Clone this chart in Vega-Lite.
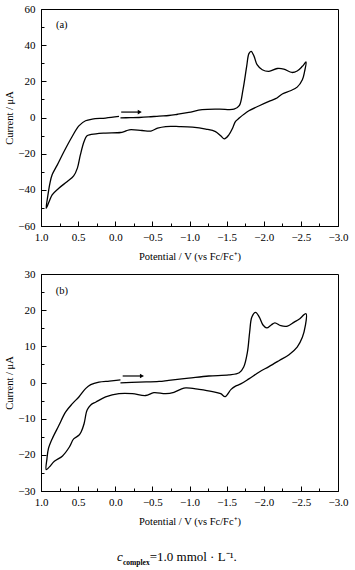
{
  "$schema": "https://vega.github.io/schema/vega-lite/v6.json",
  "padding": {"left": 4, "top": 2, "right": 5, "bottom": 0},
  "spacing": 5,
  "config": {
    "font": "Liberation Serif",
    "view": {"stroke": "black", "strokeWidth": 1},
    "axis": {"grid": false, "domainColor": "black", "tickColor": "black", "labelColor": "black", "titleColor": "black", "labelFont": "Liberation Serif", "titleFont": "Liberation Serif", "labelFontSize": 11, "titleFontSize": 10.5, "titleFontWeight": "normal", "labelOverlap": false, "labelFlush": false}
  },
  "datasets": {
    "a": [
      {"E": -0.07, "I": -0.2}, {"E": -0.2, "I": -0.1}, {"E": -0.32, "I": 0.0}, {"E": -0.45, "I": 0.3}, {"E": -0.59, "I": 0.8},
      {"E": -0.72, "I": 1.1}, {"E": -0.84, "I": 1.8}, {"E": -0.99, "I": 2.8}, {"E": -1.17, "I": 4.3}, {"E": -1.4, "I": 4.6},
      {"E": -1.6, "I": 4.6}, {"E": -1.67, "I": 6.5}, {"E": -1.72, "I": 15.3}, {"E": -1.77, "I": 28.3}, {"E": -1.8, "I": 35.3},
      {"E": -1.83, "I": 36.6}, {"E": -1.87, "I": 33.8}, {"E": -1.91, "I": 29.2}, {"E": -1.98, "I": 26.4}, {"E": -2.07, "I": 25.5},
      {"E": -2.18, "I": 27.1}, {"E": -2.27, "I": 26.8}, {"E": -2.38, "I": 24.9}, {"E": -2.45, "I": 25.7}, {"E": -2.52, "I": 28.3},
      {"E": -2.57, "I": 30.7}, {"E": -2.55, "I": 25.5}, {"E": -2.52, "I": 20.9}, {"E": -2.45, "I": 16.8}, {"E": -2.36, "I": 14.8},
      {"E": -2.25, "I": 13.0}, {"E": -2.16, "I": 10.4}, {"E": -2.07, "I": 8.9}, {"E": -1.94, "I": 6.5}, {"E": -1.8, "I": 3.7},
      {"E": -1.67, "I": -0.3}, {"E": -1.62, "I": -2.2}, {"E": -1.58, "I": -5.9}, {"E": -1.53, "I": -9.6}, {"E": -1.47, "I": -11.8},
      {"E": -1.42, "I": -10.1}, {"E": -1.35, "I": -7.8}, {"E": -1.22, "I": -6.4}, {"E": -1.04, "I": -5.3}, {"E": -0.86, "I": -5.0},
      {"E": -0.68, "I": -5.0}, {"E": -0.57, "I": -5.9}, {"E": -0.48, "I": -7.5}, {"E": -0.36, "I": -7.2}, {"E": -0.19, "I": -6.8},
      {"E": -0.12, "I": -7.8}, {"E": -0.07, "I": -8.3}, {"E": 0.13, "I": -8.6}, {"E": 0.26, "I": -9.0}, {"E": 0.38, "I": -10.1},
      {"E": 0.42, "I": -13.3}, {"E": 0.47, "I": -20.7}, {"E": 0.51, "I": -28.0}, {"E": 0.56, "I": -32.3}, {"E": 0.65, "I": -35.5},
      {"E": 0.76, "I": -39.1}, {"E": 0.85, "I": -42.8}, {"E": 0.89, "I": -46.5}, {"E": 0.93, "I": -50.2}, {"E": 0.91, "I": -43.8},
      {"E": 0.88, "I": -36.4}, {"E": 0.85, "I": -31.7}, {"E": 0.78, "I": -26.2}, {"E": 0.69, "I": -18.8}, {"E": 0.58, "I": -10.5},
      {"E": 0.49, "I": -4.6}, {"E": 0.4, "I": -1.8}, {"E": 0.31, "I": -0.9}, {"E": 0.13, "I": -0.3}, {"E": -0.05, "I": 0.6}
    ],
    "b": [
      {"E": -0.07, "I": -0.1}, {"E": -0.32, "I": 0.1}, {"E": -0.59, "I": 0.3}, {"E": -0.72, "I": 0.6}, {"E": -0.99, "I": 1.2},
      {"E": -1.26, "I": 1.8}, {"E": -1.53, "I": 2.1}, {"E": -1.67, "I": 2.7}, {"E": -1.73, "I": 4.3}, {"E": -1.78, "I": 8.4},
      {"E": -1.81, "I": 13.9}, {"E": -1.84, "I": 18.1}, {"E": -1.89, "I": 19.4}, {"E": -1.94, "I": 18.1}, {"E": -1.99, "I": 15.9},
      {"E": -2.04, "I": 15.1}, {"E": -2.1, "I": 15.9}, {"E": -2.15, "I": 16.5}, {"E": -2.23, "I": 15.7}, {"E": -2.32, "I": 15.6},
      {"E": -2.41, "I": 16.7}, {"E": -2.47, "I": 17.4}, {"E": -2.57, "I": 19.0}, {"E": -2.56, "I": 15.7}, {"E": -2.52, "I": 12.5},
      {"E": -2.45, "I": 9.8}, {"E": -2.34, "I": 7.7}, {"E": -2.21, "I": 6.1}, {"E": -2.07, "I": 4.4}, {"E": -1.94, "I": 2.9},
      {"E": -1.8, "I": 1.0}, {"E": -1.69, "I": -0.4}, {"E": -1.62, "I": -1.0}, {"E": -1.56, "I": -1.9}, {"E": -1.48, "I": -3.9},
      {"E": -1.42, "I": -3.1}, {"E": -1.31, "I": -2.5}, {"E": -1.13, "I": -1.9}, {"E": -0.95, "I": -1.5}, {"E": -0.88, "I": -1.9},
      {"E": -0.79, "I": -2.7}, {"E": -0.68, "I": -3.1}, {"E": -0.52, "I": -2.8}, {"E": -0.41, "I": -3.6}, {"E": -0.23, "I": -3.1},
      {"E": -0.05, "I": -3.1}, {"E": 0.13, "I": -4.0}, {"E": 0.26, "I": -5.4}, {"E": 0.33, "I": -6.2}, {"E": 0.38, "I": -7.7},
      {"E": 0.42, "I": -11.4}, {"E": 0.46, "I": -13.7}, {"E": 0.49, "I": -14.6}, {"E": 0.56, "I": -15.6}, {"E": 0.62, "I": -17.9},
      {"E": 0.71, "I": -20.3}, {"E": 0.82, "I": -21.8}, {"E": 0.89, "I": -23.4}, {"E": 0.93, "I": -24.1}, {"E": 0.92, "I": -21.1},
      {"E": 0.9, "I": -18.3}, {"E": 0.85, "I": -15.6}, {"E": 0.76, "I": -11.9}, {"E": 0.67, "I": -8.2}, {"E": 0.58, "I": -5.9},
      {"E": 0.49, "I": -4.0}, {"E": 0.4, "I": -1.7}, {"E": 0.33, "I": -0.6}, {"E": 0.22, "I": 0.1}, {"E": 0.08, "I": 0.4},
      {"E": -0.07, "I": 0.7}
    ],
    "arrowA": [{"E": -0.08, "I": 3.0}, {"E": -0.31, "I": 3.0}],
    "headA": [{"E": -0.33, "I": 3.0}],
    "arrowB": [{"E": -0.1, "I": 1.8}, {"E": -0.34, "I": 1.8}],
    "headB": [{"E": -0.36, "I": 1.8}],
    "labA": [{"E": 0.72, "I": 51.4, "t": "(a)"}],
    "labB": [{"E": 0.72, "I": 25.4, "t": "(b)"}]
  },
  "vconcat": [
    {
      "width": 297,
      "height": 217,
      "encoding": {
        "x": {"field": "E", "type": "quantitative",
          "scale": {"domain": [-3, 1], "reverse": true, "nice": false},
          "axis": {"title": "Potential / V (vs Fc/Fc⁺)", "values": [1, 0.75, 0.5, 0.25, 0, -0.25, -0.5, -0.75, -1, -1.25, -1.5, -1.75, -2, -2.25, -2.5, -2.75, -3],
            "format": ".1f", "labelExpr": "datum.value % 0.5 === 0 ? datum.label : ''",
            "tickSize": {"condition": {"test": "datum.value % 0.5 === 0", "value": -5}, "value": -3},
            "labelPadding": 10, "titlePadding": 7}},
        "y": {"field": "I", "type": "quantitative",
          "scale": {"domain": [-60, 60], "nice": false},
          "axis": {"title": "Current / μA", "values": [-60, -50, -40, -30, -20, -10, 0, 10, 20, 30, 40, 50, 60],
            "labelExpr": "datum.value % 20 === 0 ? datum.label : ''",
            "tickSize": {"condition": {"test": "datum.value % 20 === 0", "value": -5}, "value": -3},
            "labelPadding": 11, "titlePadding": 3}}
      },
      "layer": [
        {"data": {"name": "a"}, "mark": {"type": "line", "color": "black", "strokeWidth": 1.3, "interpolate": "catmull-rom"}, "encoding": {"order": {"value": null}}},
        {"data": {"name": "arrowA"}, "mark": {"type": "line", "color": "black", "strokeWidth": 1.2}, "encoding": {}},
        {"data": {"name": "headA"}, "mark": {"type": "point", "shape": "triangle-right", "filled": true, "color": "black", "size": 22, "opacity": 1}, "encoding": {}},
        {"data": {"name": "labA"}, "mark": {"type": "text", "fontSize": 10.5, "font": "Liberation Serif", "color": "black"}, "encoding": {"text": {"field": "t"}}}
      ]
    },
    {
      "width": 297,
      "height": 217,
      "encoding": {
        "x": {"field": "E", "type": "quantitative",
          "scale": {"domain": [-3, 1], "reverse": true, "nice": false},
          "axis": {"title": "Potential / V (vs Fc/Fc⁺)", "values": [1, 0.75, 0.5, 0.25, 0, -0.25, -0.5, -0.75, -1, -1.25, -1.5, -1.75, -2, -2.25, -2.5, -2.75, -3],
            "format": ".1f", "labelExpr": "datum.value % 0.5 === 0 ? datum.label : ''",
            "tickSize": {"condition": {"test": "datum.value % 0.5 === 0", "value": -5}, "value": -3},
            "labelPadding": 10, "titlePadding": 7}},
        "y": {"field": "I", "type": "quantitative",
          "scale": {"domain": [-30, 30], "nice": false},
          "axis": {"title": "Current / μA", "values": [-30, -25, -20, -15, -10, -5, 0, 5, 10, 15, 20, 25, 30],
            "labelExpr": "datum.value % 10 === 0 ? datum.label : ''",
            "tickSize": {"condition": {"test": "datum.value % 10 === 0", "value": -5}, "value": -3},
            "labelPadding": 11, "titlePadding": 3}}
      },
      "layer": [
        {"data": {"name": "b"}, "mark": {"type": "line", "color": "black", "strokeWidth": 1.3, "interpolate": "catmull-rom"}, "encoding": {"order": {"value": null}}},
        {"data": {"name": "arrowB"}, "mark": {"type": "line", "color": "black", "strokeWidth": 1.2}, "encoding": {}},
        {"data": {"name": "headB"}, "mark": {"type": "point", "shape": "triangle-right", "filled": true, "color": "black", "size": 22, "opacity": 1}, "encoding": {}},
        {"data": {"name": "labB"}, "mark": {"type": "text", "fontSize": 10.5, "font": "Liberation Serif", "color": "black"}, "encoding": {"text": {"field": "t"}}}
      ]
    },
    {
      "width": 297,
      "height": 40,
      "view": {"stroke": null},
      "data": {"values": [{}]},
      "layer": [
        {"mark": {"type": "text", "text": "c", "font": "Liberation Serif", "fontStyle": "italic", "fontSize": 13, "align": "left", "baseline": "alphabetic", "color": "black"},
          "encoding": {"x": {"datum": 25.6, "type": "quantitative", "scale": {"domain": [0, 100]}, "axis": null},
                       "y": {"datum": 0.275, "type": "quantitative", "scale": {"domain": [0, 1]}, "axis": null}}},
        {"mark": {"type": "text", "text": "complex", "font": "Liberation Serif", "fontWeight": "bold", "fontSize": 7.5, "align": "left", "baseline": "alphabetic", "color": "black"},
          "encoding": {"x": {"datum": 27.6, "type": "quantitative"}, "y": {"datum": 0.175, "type": "quantitative"}}},
        {"mark": {"type": "text", "text": "=1.0 mmol · L⁻¹.", "font": "Liberation Serif", "fontSize": 13, "align": "left", "baseline": "alphabetic", "color": "black"},
          "encoding": {"x": {"datum": 36.6, "type": "quantitative"}, "y": {"datum": 0.275, "type": "quantitative"}}}
      ]
    }
  ]
}
